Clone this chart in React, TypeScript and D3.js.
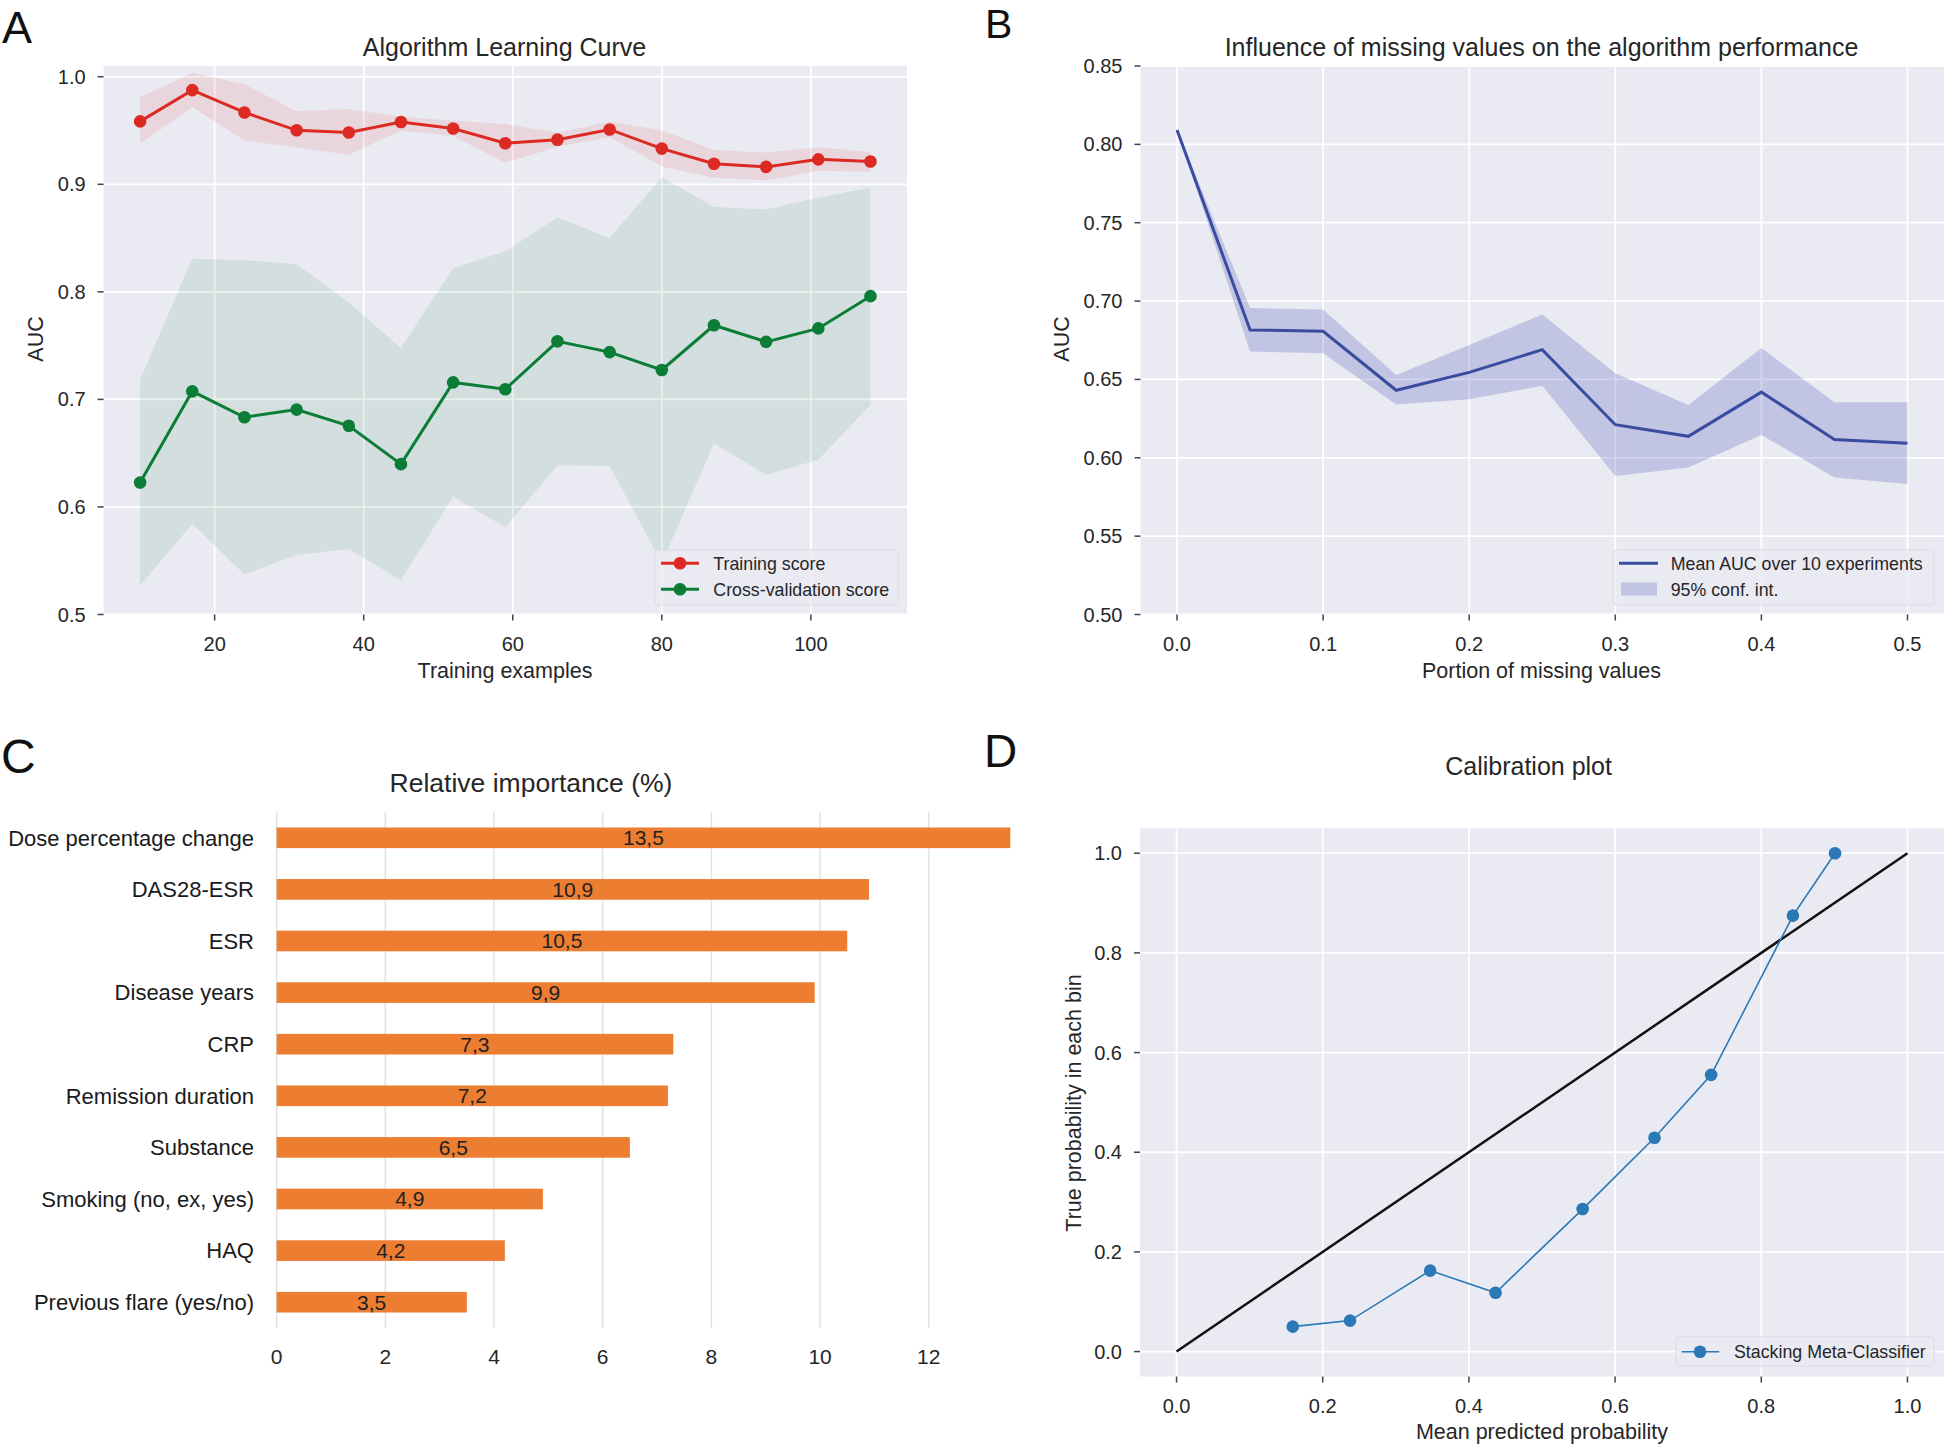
import React from 'react';
import * as d3 from 'd3';

// ---------- Panel A data ----------
const TRAIN_X = [10, 17, 24, 31, 38, 45, 52, 59, 66, 73, 80, 87, 94, 101, 108];
const TRAIN_MEAN = [0.9585, 0.9876, 0.9668, 0.9502, 0.9481, 0.958, 0.9519, 0.9382, 0.9415, 0.951, 0.9332, 0.9191, 0.9162, 0.9232, 0.9212];
const TRAIN_UPPER = [0.981, 1.0037, 0.993, 0.968, 0.97, 0.9627, 0.959, 0.956, 0.948, 0.9585, 0.95, 0.932, 0.9295, 0.9344, 0.93];
const TRAIN_LOWER = [0.9378, 0.9718, 0.9407, 0.9344, 0.9274, 0.95, 0.945, 0.92, 0.935, 0.944, 0.9166, 0.9062, 0.9037, 0.9124, 0.912];
const CV_MEAN = [0.6228, 0.7075, 0.6834, 0.6905, 0.6755, 0.6398, 0.7158, 0.7095, 0.754, 0.744, 0.7274, 0.7689, 0.7535, 0.766, 0.796];
const CV_UPPER = [0.7187, 0.8307, 0.8295, 0.8257, 0.79, 0.7477, 0.822, 0.8378, 0.8693, 0.85, 0.9066, 0.8788, 0.8768, 0.8876, 0.897];
const CV_LOWER = [0.5269, 0.5843, 0.5373, 0.5553, 0.561, 0.5319, 0.6096, 0.5812, 0.6387, 0.638, 0.548, 0.659, 0.63, 0.644, 0.695];
const A_XTICKS = [20, 40, 60, 80, 100];
const A_YTICKS = [0.5, 0.6, 0.7, 0.8, 0.9, 1.0];

// ---------- Panel B data ----------
const MISSING_X = [0, 0.05, 0.1, 0.15, 0.2, 0.25, 0.3, 0.35, 0.4, 0.45, 0.5];
const AUC_MEAN = [0.8092, 0.6816, 0.6807, 0.6431, 0.6545, 0.669, 0.6211, 0.6137, 0.6419, 0.6117, 0.6092];
const AUC_UPPER = [0.8092, 0.6955, 0.6947, 0.6528, 0.672, 0.6915, 0.6539, 0.6337, 0.67, 0.6354, 0.6354];
const AUC_LOWER = [0.8092, 0.6679, 0.6667, 0.634, 0.6374, 0.6459, 0.5884, 0.5938, 0.6146, 0.5874, 0.5832];
const B_XTICKS = [0, 0.1, 0.2, 0.3, 0.4, 0.5];
const B_YTICKS = [0.5, 0.55, 0.6, 0.65, 0.7, 0.75, 0.8, 0.85];

// ---------- Panel C data ----------
const FEATURES = ['Dose percentage change', 'DAS28-ESR', 'ESR', 'Disease years', 'CRP', 'Remission duration', 'Substance', 'Smoking (no, ex, yes)', 'HAQ', 'Previous flare (yes/no)'];
const IMPORTANCE = [13.5, 10.9, 10.5, 9.9, 7.3, 7.2, 6.5, 4.9, 4.2, 3.5];
const C_XTICKS = [0, 2, 4, 6, 8, 10, 12];

// ---------- Panel D data ----------
const CAL_X = [0.159, 0.2374, 0.347, 0.4365, 0.5556, 0.6539, 0.7314, 0.8433, 0.9009];
const CAL_Y = [0.05, 0.0622, 0.1625, 0.1179, 0.286, 0.429, 0.5552, 0.8747, 1.0];
const D_TICKS = [0, 0.2, 0.4, 0.6, 0.8, 1.0];

const FONT = "'Liberation Sans', Arial, Helvetica, sans-serif";
const LETTER_FONT = "'Liberation Sans', Arial, sans-serif";
const TXT = '#262626';
const BG = '#EAEAF2';
const RED = '#dc2a22';
const GREEN = '#0b7d36';
const BLUE_B = '#3a4c9f';
const BLUE_D = '#2a78b6';
const ORANGE = '#ED7D31';

type Sc = d3.ScaleLinear<number, number>;

function DarkAxes({ x, y, xticks, yticks, xfmt, yfmt }: { x: Sc; y: Sc; xticks: number[]; yticks: number[]; xfmt: (v: number) => string; yfmt: (v: number) => string }) {
  const [x0, x1] = x.range();
  const [y0, y1] = y.range();
  return (
    <g>
      <rect x={x0} y={y1} width={x1 - x0} height={y0 - y1} fill={BG} />
      {xticks.map((t) => (
        <line key={'gx' + t} x1={x(t)} x2={x(t)} y1={y1} y2={y0} stroke="#fff" strokeWidth={1.8} />
      ))}
      {yticks.map((t) => (
        <line key={'gy' + t} x1={x0} x2={x1} y1={y(t)} y2={y(t)} stroke="#fff" strokeWidth={1.8} />
      ))}
      {xticks.map((t) => (
        <g key={'tx' + t}>
          <line x1={x(t)} x2={x(t)} y1={y0} y2={y0 + 6} stroke="#444" strokeWidth={1.5} />
          <text x={x(t)} y={y0 + 29} dy="0.35em" textAnchor="middle" fontSize={20} fill={TXT} fontFamily={FONT}>{xfmt(t)}</text>
        </g>
      ))}
      {yticks.map((t) => (
        <g key={'ty' + t}>
          <line x1={x0 - 6} x2={x0} y1={y(t)} y2={y(t)} stroke="#444" strokeWidth={1.5} />
          <text x={x0 - 18} y={y(t)} dy="0.35em" textAnchor="end" fontSize={20} fill={TXT} fontFamily={FONT}>{yfmt(t)}</text>
        </g>
      ))}
    </g>
  );
}

function PanelA() {
  const x = d3.scaleLinear().domain([5.1, 112.9]).range([103.6, 907]);
  const y = d3.scaleLinear().domain([0.5, 1.01]).range([614.5, 66]);
  const area = (lo: number[], hi: number[]) =>
    d3.area<number>().x((d) => x(d)).y0((_, i) => y(lo[i])).y1((_, i) => y(hi[i]))(TRAIN_X) || '';
  const line = (m: number[]) => d3.line<number>().x((d) => x(d)).y((_, i) => y(m[i]))(TRAIN_X) || '';
  return (
    <g>
      <DarkAxes x={x} y={y} xticks={A_XTICKS} yticks={A_YTICKS} xfmt={(v) => String(v)} yfmt={(v) => v.toFixed(1)} />
      <path d={area(TRAIN_LOWER, TRAIN_UPPER)} fill={RED} fillOpacity={0.1} />
      <path d={area(CV_LOWER, CV_UPPER)} fill={GREEN} fillOpacity={0.1} />
      <path d={line(TRAIN_MEAN)} fill="none" stroke={RED} strokeWidth={3} />
      <path d={line(CV_MEAN)} fill="none" stroke={GREEN} strokeWidth={3} />
      {TRAIN_X.map((d, i) => <circle key={'tr' + i} cx={x(d)} cy={y(TRAIN_MEAN[i])} r={6.3} fill={RED} />)}
      {TRAIN_X.map((d, i) => <circle key={'cv' + i} cx={x(d)} cy={y(CV_MEAN[i])} r={6.3} fill={GREEN} />)}
      <text x={504.5} y={47} dy="0.35em" textAnchor="middle" fontSize={25} fill={TXT} fontFamily={FONT}>Algorithm Learning Curve</text>
      <text x={505} y={670} dy="0.35em" textAnchor="middle" fontSize={21.5} fill={TXT} fontFamily={FONT}>Training examples</text>
      <text transform="translate(35,339) rotate(-90)" dy="0.35em" textAnchor="middle" fontSize={21.5} fill={TXT} fontFamily={FONT}>AUC</text>
      {/* legend */}
      <rect x={655} y={550} width={243} height={55} rx={3} fill={BG} fillOpacity={0.8} stroke="#dcdce6" strokeWidth={1} />
      <line x1={661} x2={699} y1={563.3} y2={563.3} stroke={RED} strokeWidth={3} />
      <circle cx={680} cy={563.3} r={6.3} fill={RED} />
      <text x={713.3} y={563.3} dy="0.35em" fontSize={17.8} fill={TXT} fontFamily={FONT}>Training score</text>
      <line x1={661} x2={699} y1={589.3} y2={589.3} stroke={GREEN} strokeWidth={3} />
      <circle cx={680} cy={589.3} r={6.3} fill={GREEN} />
      <text x={713.3} y={589.3} dy="0.35em" fontSize={17.8} fill={TXT} fontFamily={FONT}>Cross-validation score</text>
    </g>
  );
}

function PanelB() {
  const x = d3.scaleLinear().domain([-0.025, 0.525]).range([1140.5, 1944]);
  const y = d3.scaleLinear().domain([0.5, 0.85]).range([614.5, 66]);
  const area = d3.area<number>().x((d) => x(d)).y0((_, i) => y(AUC_LOWER[i])).y1((_, i) => y(AUC_UPPER[i]))(MISSING_X) || '';
  const line = d3.line<number>().x((d) => x(d)).y((_, i) => y(AUC_MEAN[i]))(MISSING_X) || '';
  return (
    <g>
      <DarkAxes x={x} y={y} xticks={B_XTICKS} yticks={B_YTICKS} xfmt={(v) => v.toFixed(1)} yfmt={(v) => v.toFixed(2)} />
      <path d={area} fill="#4c52b8" fillOpacity={0.25} />
      <path d={line} fill="none" stroke={BLUE_B} strokeWidth={3} />
      <text x={1541.5} y={47} dy="0.35em" textAnchor="middle" fontSize={25} fill={TXT} fontFamily={FONT}>Influence of missing values on the algorithm performance</text>
      <text x={1541.5} y={670} dy="0.35em" textAnchor="middle" fontSize={21.5} fill={TXT} fontFamily={FONT}>Portion of missing values</text>
      <text transform="translate(1061,339) rotate(-90)" dy="0.35em" textAnchor="middle" fontSize={21.5} fill={TXT} fontFamily={FONT}>AUC</text>
      <rect x={1613} y={550} width={321} height={55} rx={3} fill={BG} fillOpacity={0.8} stroke="#dcdce6" strokeWidth={1} />
      <line x1={1619} x2={1658} y1={563.3} y2={563.3} stroke={BLUE_B} strokeWidth={3} />
      <text x={1670.7} y={563.3} dy="0.35em" fontSize={17.8} fill={TXT} fontFamily={FONT}>Mean AUC over 10 experiments</text>
      <rect x={1621} y={582.5} width={36} height={13} fill="#4c52b8" fillOpacity={0.25} />
      <text x={1670.7} y={589.3} dy="0.35em" fontSize={17.8} fill={TXT} fontFamily={FONT}>95% conf. int.</text>
    </g>
  );
}

function PanelC() {
  const x = d3.scaleLinear().domain([0, 13.5]).range([276.6, 1010.3]);
  const yb = d3.scaleBand<string>().domain(FEATURES).range([812, 1328]).paddingInner(0.6).paddingOuter(0.3);
  const fmt = (v: number) => v.toFixed(1).replace('.', ',');
  return (
    <g>
      {C_XTICKS.map((t) => (
        <g key={'c' + t}>
          <line x1={x(t)} x2={x(t)} y1={812} y2={1328} stroke="#e3e3e3" strokeWidth={1.5} />
          <text x={x(t)} y={1357} dy="0.35em" textAnchor="middle" fontSize={21} fill={TXT} fontFamily={FONT}>{t}</text>
        </g>
      ))}
      {FEATURES.map((f, i) => (
        <g key={f}>
          <rect x={x(0)} y={yb(f)!} width={x(IMPORTANCE[i]) - x(0)} height={yb.bandwidth()} fill={ORANGE} />
          <text x={(x(0) + x(IMPORTANCE[i])) / 2} y={yb(f)! + yb.bandwidth() / 2} dy="0.35em" textAnchor="middle" fontSize={21} fill="#222" fontFamily={FONT}>{fmt(IMPORTANCE[i])}</text>
          <text x={254} y={yb(f)! + yb.bandwidth() / 2} dy="0.35em" textAnchor="end" fontSize={22} fill="#1a1a1a" fontFamily={FONT}>{f}</text>
        </g>
      ))}
      <text x={531} y={782.5} dy="0.35em" textAnchor="middle" fontSize={26.5} fill={TXT} fontFamily={FONT}>Relative importance (%)</text>
    </g>
  );
}

function PanelD() {
  const x = d3.scaleLinear().domain([-0.05, 1.05]).range([1140, 1944]);
  const y = d3.scaleLinear().domain([-0.05, 1.05]).range([1376.5, 828.3]);
  const line = d3.line<number>().x((d) => x(d)).y((_, i) => y(CAL_Y[i]))(CAL_X) || '';
  return (
    <g>
      <DarkAxes x={x} y={y} xticks={D_TICKS} yticks={D_TICKS} xfmt={(v) => v.toFixed(1)} yfmt={(v) => v.toFixed(1)} />
      <line x1={x(0)} y1={y(0)} x2={x(1)} y2={y(1)} stroke="#111" strokeWidth={2.5} />
      <path d={line} fill="none" stroke={BLUE_D} strokeWidth={1.6} />
      {CAL_X.map((d, i) => <circle key={'d' + i} cx={x(d)} cy={y(CAL_Y[i])} r={6.3} fill={BLUE_D} />)}
      <text x={1528.6} y={766.3} dy="0.35em" textAnchor="middle" fontSize={25} fill={TXT} fontFamily={FONT}>Calibration plot</text>
      <text x={1542} y={1431} dy="0.35em" textAnchor="middle" fontSize={21.5} fill={TXT} fontFamily={FONT}>Mean predicted probability</text>
      <text transform="translate(1073.5,1103) rotate(-90)" dy="0.35em" textAnchor="middle" fontSize={21.5} fill={TXT} fontFamily={FONT}>True probability in each bin</text>
      <rect x={1676} y={1336.7} width={258} height={29.5} rx={3} fill={BG} fillOpacity={0.8} stroke="#dcdce6" strokeWidth={1} />
      <line x1={1681.7} x2={1719.3} y1={1351.7} y2={1351.7} stroke={BLUE_D} strokeWidth={1.6} />
      <circle cx={1700} cy={1351.7} r={6.3} fill={BLUE_D} />
      <text x={1734} y={1351.7} dy="0.35em" fontSize={17.8} fill={TXT} fontFamily={FONT}>Stacking Meta-Classifier</text>
    </g>
  );
}

export default function App() {
  return (
    <svg width={1946} height={1446} style={{ position: 'absolute', left: 0, top: 0, background: '#fff' }}>
      <rect x={0} y={0} width={1946} height={1446} fill="#fff" />
      <PanelA />
      <PanelB />
      <PanelC />
      <PanelD />
      <text x={2} y={42.5} fontSize={45} fill="#111" fontFamily={LETTER_FONT}>A</text>
      <text x={985} y={38} fontSize={41} fill="#111" fontFamily={LETTER_FONT}>B</text>
      <text x={1} y={772.5} fontSize={48} fill="#111" fontFamily={LETTER_FONT}>C</text>
      <text x={984} y={767.3} fontSize={46} fill="#111" fontFamily={LETTER_FONT}>D</text>
    </svg>
  );
}
